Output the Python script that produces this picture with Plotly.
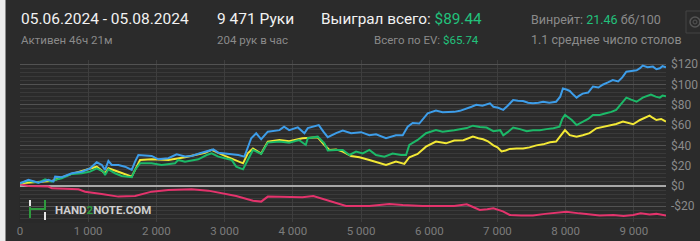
import plotly.graph_objects as go

# ---------------- data (hands, $) ----------------
blue_pts = [(0,2.6),(124,6),(270,3.3),(417,6),(490,4.3),(515,9.2),(612,8.6),(759,12.5),(905,14),(1027,17.4),
            (1125,23.3),(1200,20.7),(1247,15.8),(1296,24.6),(1345,20.7),(1442,20.7),(1540,19),(1638,15.8),(1687,24),
            (1735,30.5),(1930,29.6),(2028,26.3),(2175,27.3),(2297,31.2),(2419,29),(2516,29.6),(2638,32.2),(2712,33.8),
            (2834,36),(2907,32.8),(3103,31.2),(3200,30.5),(3290,28.9),(3390,47),(3463,51.9),(3536,46),(3633,53.5),
            (3804,55),(3872,58.3),(3946,55),(4073,57.7),(4170,52),(4219,57),(4380,60),(4448,53.5),(4512,48),(4634,52),
            (4732,54.5),(4854,52),(5000,53),(5122,50),(5220,51),(5366,47),(5512,50),(5611,50),(5684,58.3),(5757,62),
            (5854,61.5),(5977,71.6),(6098,74.2),(6196,72.6),(6366,73),(6450,74),(6550,76),(6620,78),(6690,80),(6780,79),
            (6890,81.4),(6940,78),(7010,77),(7085,75),(7150,79),(7230,84.7),(7300,84),(7375,83.7),(7450,82),(7520,81.4),
            (7600,82),(7670,83),(7760,82),(7860,83),(7920,88),(7960,96),(8010,95),(8060,93.6),(8110,90),(8160,87),
            (8200,89),(8250,91),(8330,92),(8400,98),(8480,97),(8550,100),(8620,102),(8690,104.4),(8770,103),(8830,107),
            (8890,112.6),(8960,113),(9040,114),(9090,116),(9130,118.6),(9200,117),(9280,117.6),(9330,115),(9380,116),
            (9420,118),(9471,117)]

green_pts = [(0,2.6),(124,5.3),(270,3.3),(368,6.6),(466,4.3),(515,6),(612,7.6),(759,11.9),(905,12.5),(1027,14.1),
             (1125,17.4),(1222,14.1),(1247,10.8),(1296,16.4),(1393,12.5),(1491,9.9),(1638,8.6),(1687,15.8),(1760,22.3),
             (1930,22.3),(2076,20.7),(2272,22.3),(2320,25.6),(2419,24),(2614,26.3),(2736,30.5),(2810,32.2),(2907,28.9),
             (3103,25.6),(3170,19),(3270,16.4),(3340,25.6),(3415,35.5),(3536,31.5),(3633,42.7),(3804,43.7),(3946,42.7),
             (4090,45.3),(4190,40.4),(4219,47),(4365,48.6),(4463,42),(4512,35),(4634,35.5),(4732,35.5),(4830,30.5),
             (4927,33.8),(5024,32),(5122,35.5),(5220,30.5),(5342,28.9),(5463,32),(5586,30.5),(5660,30.5),(5708,40.4),
             (5830,45.3),(5952,52),(6098,55),(6196,53.5),(6366,55),(6450,56),(6550,57),(6640,59.4),(6740,58),(6840,57.5),
             (6940,54),(7040,55),(7085,50),(7150,53),(7230,57.5),(7330,56),(7430,54),(7520,55),(7620,55),(7720,56),
             (7820,56.8),(7910,58.5),(7950,66),(7990,70),(8090,65),(8160,60),(8250,63.4),(8330,66),(8400,70),(8500,70),
             (8590,71.6),(8670,73),(8740,75),(8800,80),(8890,87),(8960,85),(9040,83),(9130,87),(9250,90),(9320,88),
             (9380,87),(9420,89),(9471,88.5)]

yellow_pts = [(0,2.6),(466,5),(759,11.9),(1125,19),(1247,12.5),(1296,17.4),(1442,14),(1638,9.2),(1760,25.6),
              (1930,26.3),(2175,25.6),(2419,28.3),(2712,32.8),(2810,35.5),(3004,29.6),(3200,24),(3270,22.3),(3340,32.2),
              (3415,37),(3536,32),(3633,43.7),(3804,45.3),(3946,44),(4140,47),(4365,48),(4463,40.4),(4536,35.5),
              (4634,36),(4732,33.8),(4854,29.6),(4976,28.3),(5122,25.6),(5268,22.3),(5366,20.7),(5512,24),(5635,21.7),
              (5708,28.3),(5830,31.5),(5952,38.7),(6098,43.7),(6245,42),(6366,44.7),(6500,45),(6640,48.6),(6720,47),
              (6790,46),(6860,44),(6940,40),(7000,38),(7060,34),(7120,35),(7180,36.5),(7280,37),(7375,37),(7470,38),
              (7570,40),(7670,41),(7770,43),(7860,43.7),(7930,50),(7990,55),(8060,50),(8160,48.6),(8250,50),(8350,52),
              (8450,56.8),(8540,58),(8640,60),(8740,61),(8840,63.4),(8920,62),(8990,60.8),(9090,65),(9160,67),(9230,69.3),
              (9280,67),(9330,65),(9400,66),(9471,63.5)]

pink_pts = [(0,1.6),(124,0),(417,-0.6),(466,-2.3),(856,-3.3),(954,-5.6),(1198,-8),(1442,-10.5),(1687,-9.9),
            (1930,-5.6),(2175,-3.9),(2516,-3.3),(2760,-4.6),(3004,-8),(3170,-9.9),(3415,-14.5),(3536,-15.4),(3633,-10.5),
            (4140,-11.2),(4300,-9.9),(4487,-13.8),(4634,-17),(4780,-19.7),(5122,-19.7),(5415,-17.7),(5611,-18.7),
            (5903,-19.7),(6366,-19.7),(6550,-18),(6650,-21),(6740,-23.6),(6850,-23),(6940,-22),(7080,-25),(7180,-28.6),
            (7350,-29),(7520,-29.2),(7700,-27.5),(7850,-26.5),(8010,-25.3),(8200,-27),(8350,-28),(8500,-29),(8700,-28.5),
            (8850,-29.5),(8990,-28.6),(9100,-27),(9230,-28),(9330,-27.5),(9471,-29.2)]

x_tickvals = [0,1000,2000,3000,4000,5000,6000,7000,8000,9000]
x_ticktext = ["0","1 000","2 000","3 000","4 000","5 000","6 000","7 000","8 000","9 000"]
y_tickvals = [-20,0,20,40,60,80,100,120]
y_ticktext = ["-$20","$0","$20","$40","$60","$80","$100","$120"]

# ---------------- figure ----------------
W, H = 700, 241
L, R, T, B = 20, 34, 60, 19
PW, PH = W - L - R, H - T - B
BG = "#2b2b2b"
GREEN_TXT = "#22c27c"

def px(x):
    return (x - L) / PW

def py(y):
    return (H - B - y) / PH

fig = go.Figure()
for pts, col in [(pink_pts, "#e3336c"), (yellow_pts, "#f2e835"),
                 (green_pts, "#1cb968"), (blue_pts, "#3d9de9")]:
    xs = [p[0] for p in pts]
    ys = [p[1] for p in pts]
    fig.add_trace(go.Scatter(x=xs, y=ys, mode="lines",
                             line=dict(color=col, width=2), hoverinfo="skip"))

fig.update_layout(
    width=W, height=H, margin=dict(l=L, r=R, t=T, b=B, autoexpand=False),
    paper_bgcolor=BG, plot_bgcolor=BG, showlegend=False,
    font=dict(family="Roboto", color="#8a8a8a"),
    xaxis=dict(range=[0, 9471], tickmode="array", tickvals=x_tickvals, ticktext=x_ticktext,
               showgrid=True, gridcolor="#3e3e3e", gridwidth=1, zeroline=False,
               tickfont=dict(size=11.5, color="#7c7c7c"), ticks="", showline=False,
               automargin=False, fixedrange=True),
    yaxis=dict(range=[-35.5, 124.1], side="right", tickmode="array", tickvals=y_tickvals,
               ticktext=y_ticktext, showgrid=True, gridcolor="#525252", gridwidth=1,
               zeroline=True, zerolinecolor="#a8a8a8", zerolinewidth=1.5,
               minor=dict(tickmode="linear", tick0=0, dtick=4, showgrid=True,
                          gridcolor="#3a3a3a", gridwidth=1, ticks=""),
               tickfont=dict(size=12, color="#8a8a8a"), ticks="", ticklabelstandoff=4,
               automargin=False, fixedrange=True),
)

shapes = []
# left page strip
shapes.append(dict(type="rect", xref="paper", yref="paper", x0=px(0), x1=px(5.5), y0=py(H), y1=py(0),
                   fillcolor="#ececec", line=dict(width=0), layer="above"))
# watermark box
shapes.append(dict(type="rect", xref="paper", yref="paper", x0=px(19), x1=px(147), y0=py(223), y1=py(196),
                   fillcolor="#292929", line=dict(width=0), layer="between"))
# logo bars
def bar(x0, x1, y0, y1, col):
    shapes.append(dict(type="rect", xref="paper", yref="paper", x0=px(x0), x1=px(x1),
                       y0=py(y1), y1=py(y0), fillcolor=col, line=dict(width=0), layer="above"))
bar(29, 31, 200, 206, "#e6e6e6")
bar(29, 31, 207, 218, "#2f9a3e")
bar(29, 46, 208, 210, "#2f9a3e")
bar(44, 46, 200, 210, "#2f9a3e")
bar(44, 46, 212, 220, "#e6e6e6")
# gear box and gear icon (drawn as shapes)
shapes.append(dict(type="rect", xref="paper", yref="paper", x0=px(686), x1=px(706), y0=py(33), y1=py(11),
                   fillcolor="rgba(0,0,0,0)", line=dict(color="#444444", width=1), layer="above"))
shapes.append(dict(type="circle", xref="paper", yref="paper", x0=px(690), x1=px(700), y0=py(27), y1=py(17),
                   fillcolor="rgba(0,0,0,0)", line=dict(color="#555555", width=1.5), layer="above"))
shapes.append(dict(type="circle", xref="paper", yref="paper", x0=px(693), x1=px(697), y0=py(24), y1=py(20),
                   fillcolor="rgba(0,0,0,0)", line=dict(color="#555555", width=1), layer="above"))
fig.update_layout(shapes=shapes)

def ann(text, x, y, size, color, anchor="left", family="Roboto"):
    fig.add_annotation(text=text, xref="paper", yref="paper", x=px(x), y=py(y),
                       xanchor=anchor, yanchor="middle", showarrow=False,
                       font=dict(size=size, color=color, family=family))

ann("05.06.2024 - 05.08.2024", 19, 19, 15.5, "#f2f2f2")
ann("Активен 46ч 21м", 19, 40, 11.5, "#8a8a8a")
ann("9 471 Руки", 215, 19, 15.5, "#f2f2f2")
ann("204 рук в час", 215, 40, 11.5, "#8a8a8a")
ann("Выиграл всего: <span style='color:%s'>$89.44</span>" % GREEN_TXT, 319, 19, 15.3, "#f2f2f2")
ann("Всего по EV: <span style='color:%s'>$65.74</span>" % GREEN_TXT, 481, 40, 11.5, "#8a8a8a", anchor="right")
ann("Винрейт: <span style='color:%s'>21.46</span> бб/100" % GREEN_TXT, 529, 19, 12.5, "#8a8a8a")
ann("1.1 среднее число столов", 529, 40, 12.5, "#8a8a8a")
ann("HAND<span style='color:#2f9a3e'>2</span>NOTE.COM", 53, 210, 11.5, "#cfcfcf", family="Roboto")
fig.layout.annotations[-1].font.weight = "bold"

fig.write_html("out.html")
